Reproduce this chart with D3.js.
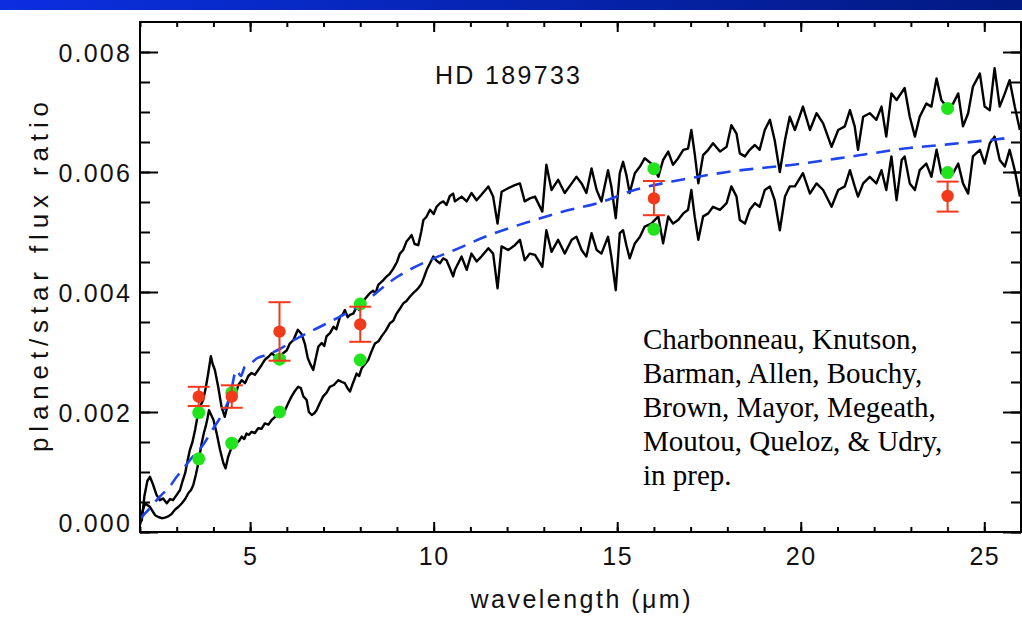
<!DOCTYPE html>
<html>
<head>
<meta charset="utf-8">
<script src="https://cdn.jsdelivr.net/npm/d3@7"></script>
<style>
  html, body { margin: 0; padding: 0; background: #fff; }
  svg { display: block; }
  .idl { font-family: "Liberation Sans", Helvetica, Arial, sans-serif; fill: #111; }
</style>
</head>
<body>
<script>
// ---------- DATA ----------
const xMajorTicks = [5, 10, 15, 20, 25];
const yMajorTicks = [0.000, 0.002, 0.004, 0.006, 0.008];
const yTickLabels = ["0.000", "0.002", "0.004", "0.006", "0.008"];

// hotter model spectrum (upper black curve): [wavelength, flux ratio]
const upperSpectrum = [
 [2.00,0.00015],[2.05,0.0002],[2.12,0.0006],[2.20,0.00085],[2.27,0.00092],[2.35,0.0008],[2.45,0.00062],
 [2.54,0.00053],[2.63,0.00056],[2.73,0.00048],[2.82,0.00055],[2.90,0.00053],[3.00,0.00062],[3.09,0.0007],
 [3.16,0.00085],[3.23,0.00098],[3.30,0.0012],[3.36,0.00137],[3.43,0.0015],[3.50,0.0017],[3.59,0.002],
 [3.66,0.00212],[3.72,0.0022],[3.79,0.0024],[3.86,0.00265],[3.93,0.00293],[3.98,0.0028],[4.04,0.0027],
 [4.13,0.00242],[4.22,0.00209],[4.31,0.00192],[4.40,0.00215],[4.50,0.00237],[4.59,0.00226],[4.68,0.00245],
 [4.77,0.00253],[4.86,0.00248],[4.95,0.0026],[5.04,0.00265],[5.13,0.00262],[5.22,0.0027],[5.31,0.00278],
 [5.40,0.00287],[5.50,0.00292],[5.59,0.00298],[5.70,0.00292],[5.81,0.0029],[5.90,0.00298],[6.00,0.00303],
 [6.08,0.00314],[6.18,0.0032],[6.30,0.00337],[6.40,0.0033],[6.49,0.00314],[6.57,0.0029],[6.63,0.00281],
 [6.72,0.0027],[6.79,0.0029],[6.86,0.00309],[6.95,0.00315],[7.02,0.0031],[7.08,0.00326],[7.18,0.00332],
 [7.27,0.00342],[7.35,0.00338],[7.45,0.00359],[7.52,0.00362],[7.58,0.0037],[7.66,0.00358],[7.72,0.00362],
 [7.81,0.00364],[7.90,0.00375],[7.97,0.0037],[8.04,0.00381],[8.15,0.0039],[8.26,0.00398],[8.35,0.00402],
 [8.42,0.00398],[8.49,0.00412],[8.60,0.00418],[8.72,0.00426],[8.80,0.0043],[8.90,0.00439],[9.00,0.0045],
 [9.08,0.00464],[9.17,0.0047],[9.26,0.00484],[9.34,0.0049],[9.40,0.00495],[9.48,0.0048],[9.58,0.00478],
 [9.66,0.005],[9.72,0.0052],[9.80,0.00525],[9.90,0.00537],[10.00,0.0053],[10.08,0.00542],[10.17,0.00548],
 [10.26,0.00551],[10.35,0.00545],[10.44,0.0056],[10.53,0.00564],[10.58,0.00551],[10.76,0.00559],
 [10.90,0.00551],[11.03,0.00565],[11.17,0.00553],[11.30,0.00562],[11.49,0.00576],[11.62,0.00559],
 [11.74,0.00514],[11.85,0.00567],[12.03,0.00573],[12.21,0.00578],[12.35,0.00581],[12.48,0.00551],
 [12.62,0.00556],[12.76,0.00559],[12.96,0.00534],[13.07,0.00612],[13.21,0.0057],[13.39,0.00587],
 [13.57,0.00565],[13.76,0.00581],[13.89,0.00592],[14.03,0.00581],[14.16,0.00565],[14.30,0.00606],
 [14.44,0.0057],[14.57,0.00551],[14.75,0.00603],[14.84,0.00576],[14.96,0.00523],[15.07,0.00598],
 [15.16,0.00617],[15.25,0.00595],[15.34,0.00565],[15.48,0.00598],[15.62,0.00609],[15.75,0.00623],
 [15.93,0.00614],[16.12,0.00592],[16.25,0.0062],[16.39,0.00634],[16.52,0.00612],[16.66,0.00623],
 [16.80,0.00637],[16.93,0.00639],[17.02,0.0067],[17.11,0.00631],[17.21,0.00581],[17.34,0.00628],
 [17.48,0.00637],[17.61,0.00648],[17.80,0.00634],[17.98,0.00642],[18.11,0.00678],[18.25,0.00664],
 [18.34,0.00631],[18.48,0.00626],[18.61,0.00637],[18.75,0.00645],[18.88,0.00637],[19.02,0.0067],
 [19.16,0.00687],[19.29,0.00653],[19.43,0.006],[19.57,0.00653],[19.70,0.00692],[19.84,0.0067],
 [20.06,0.00709],[20.25,0.0067],[20.43,0.00698],[20.61,0.00681],[20.84,0.00642],[21.02,0.0067],
 [21.20,0.00676],[21.34,0.00703],[21.47,0.00676],[21.56,0.00637],[21.70,0.00692],[21.88,0.00698],
 [22.06,0.00687],[22.20,0.00709],[22.33,0.00659],[22.47,0.00731],[22.61,0.0072],[22.83,0.0074],
 [22.97,0.00692],[23.11,0.00659],[23.24,0.00692],[23.42,0.00714],[23.56,0.00709],[23.70,0.00756],
 [23.83,0.0072],[24.01,0.00706],[24.15,0.00714],[24.29,0.00731],[24.42,0.00676],[24.56,0.00698],
 [24.69,0.00742],[24.88,0.00764],[25.01,0.00709],[25.15,0.00703],[25.28,0.00773],[25.42,0.00709],
 [25.56,0.00731],[25.69,0.00753],[25.83,0.00709],[25.97,0.0067]
];

// cooler model spectrum (lower black curve)
const lowerSpectrum = [
 [2.00,0.00012],[2.07,0.00035],[2.14,0.00048],[2.20,0.00045],[2.27,0.00042],[2.34,0.00035],[2.41,0.00028],
 [2.50,0.00025],[2.59,0.00023],[2.68,0.00024],[2.77,0.00026],[2.86,0.0003],[2.95,0.00037],[3.05,0.00042],
 [3.14,0.00048],[3.23,0.00055],[3.32,0.00065],[3.39,0.0007],[3.45,0.00078],[3.52,0.00095],[3.59,0.00115],
 [3.68,0.00148],[3.74,0.00165],[3.79,0.00176],[3.84,0.0019],[3.88,0.00203],[3.94,0.00195],[4.00,0.00187],
 [4.09,0.00164],[4.18,0.00137],[4.27,0.00115],[4.33,0.00106],[4.40,0.00125],[4.50,0.00142],[4.56,0.0014],
 [4.63,0.00148],[4.70,0.00152],[4.77,0.00159],[4.84,0.00155],[4.90,0.00164],[4.97,0.00162],[5.04,0.00167],
 [5.13,0.00165],[5.22,0.00173],[5.31,0.00172],[5.40,0.00181],[5.50,0.00179],[5.59,0.00187],[5.68,0.00192],
 [5.77,0.002],[5.86,0.00198],[5.95,0.00203],[6.04,0.00215],[6.13,0.00226],[6.22,0.00235],[6.31,0.00242],
 [6.38,0.0024],[6.45,0.00226],[6.54,0.0022],[6.60,0.002],[6.68,0.00195],[6.75,0.00198],[6.81,0.00203],
 [6.90,0.00215],[6.99,0.00226],[7.08,0.00232],[7.17,0.00242],[7.28,0.00245],[7.40,0.00253],[7.50,0.0025],
 [7.58,0.00248],[7.65,0.0024],[7.72,0.00234],[7.80,0.00248],[7.90,0.00264],[7.97,0.0026],[8.04,0.00273],
 [8.13,0.0028],[8.22,0.00287],[8.30,0.003],[8.40,0.00314],[8.50,0.00318],[8.58,0.00326],[8.70,0.00336],
 [8.81,0.00348],[8.90,0.00352],[8.99,0.00364],[9.08,0.00372],[9.17,0.00381],[9.26,0.00385],[9.35,0.00392],
 [9.44,0.00398],[9.53,0.00403],[9.60,0.00408],[9.67,0.00414],[9.74,0.00425],[9.81,0.00437],[9.90,0.00448],
 [9.99,0.00459],[10.08,0.00452],[10.17,0.00448],[10.26,0.00456],[10.35,0.00453],[10.44,0.0044],
 [10.53,0.00426],[10.58,0.00437],[10.76,0.00459],[10.90,0.00437],[11.03,0.00464],[11.17,0.00451],
 [11.30,0.00459],[11.49,0.00473],[11.62,0.00464],[11.74,0.00406],[11.85,0.00476],[12.03,0.0047],
 [12.21,0.00478],[12.35,0.00487],[12.48,0.00453],[12.62,0.00464],[12.76,0.00462],[12.96,0.00442],
 [13.07,0.00503],[13.21,0.00467],[13.39,0.00487],[13.57,0.00464],[13.76,0.00487],[13.89,0.00492],
 [14.03,0.0047],[14.16,0.00459],[14.30,0.00498],[14.44,0.0047],[14.57,0.00464],[14.75,0.00492],
 [14.84,0.00459],[14.96,0.00403],[15.07,0.00498],[15.16,0.00503],[15.25,0.00478],[15.34,0.00456],
 [15.48,0.00481],[15.62,0.00492],[15.75,0.00509],[15.93,0.00514],[16.12,0.00526],[16.25,0.00481],
 [16.39,0.00526],[16.52,0.00514],[16.66,0.0052],[16.80,0.00531],[16.93,0.00537],[17.02,0.0057],
 [17.11,0.00526],[17.21,0.00487],[17.34,0.00526],[17.48,0.00531],[17.61,0.00542],[17.80,0.00537],
 [17.98,0.00548],[18.11,0.00576],[18.25,0.00559],[18.34,0.0052],[18.48,0.00514],[18.61,0.00537],
 [18.75,0.00548],[18.88,0.00542],[19.02,0.0057],[19.16,0.00576],[19.29,0.00553],[19.43,0.00503],
 [19.57,0.00559],[19.70,0.00576],[19.84,0.00576],[20.06,0.00598],[20.25,0.00564],[20.43,0.00581],
 [20.61,0.0057],[20.84,0.00542],[21.02,0.0057],[21.20,0.00576],[21.34,0.00603],[21.47,0.00576],
 [21.56,0.00559],[21.70,0.00581],[21.88,0.00592],[22.06,0.00581],[22.20,0.00603],[22.33,0.0057],
 [22.47,0.00626],[22.61,0.00553],[22.75,0.0062],[22.83,0.00626],[22.97,0.00581],[23.11,0.0057],
 [23.24,0.00603],[23.42,0.00614],[23.56,0.00592],[23.70,0.00637],[23.83,0.00598],[24.01,0.00598],
 [24.15,0.00598],[24.29,0.00614],[24.42,0.00581],[24.56,0.00564],[24.69,0.00626],[24.88,0.00637],
 [25.01,0.00614],[25.15,0.00648],[25.28,0.00659],[25.42,0.0062],[25.56,0.00609],[25.69,0.00637],
 [25.83,0.00603],[25.97,0.00559]
];

// blackbody-like comparison model (blue dashed)
const blueModel = [
 [2.0,0.00022],[2.3,0.00042],[2.54,0.00059],[2.8,0.00075],[3.0,0.00092],[3.2,0.00107],[3.4,0.00123],
 [3.68,0.00142],[4.0,0.00173],[4.27,0.002],[4.45,0.00226],[4.63,0.0027],[4.75,0.0026],[4.85,0.00275],
 [5.0,0.0028],[5.2,0.0029],[5.45,0.00295],[5.81,0.00305],[6.2,0.0032],[7.0,0.00345],[8.0,0.00378],
 [9.0,0.00425],[10.0,0.00456],[10.57,0.0047],[11.4,0.00492],[12.03,0.00506],[12.76,0.0052],[13.4,0.00532],
 [14.57,0.0055],[15.47,0.0057],[16.75,0.00587],[18.0,0.006],[19.9,0.00613],[21.5,0.00627],[22.96,0.0064],
 [24.0,0.00646],[25.7,0.00657]
];

// band-integrated model points (green)
const greenUpper = [[3.6,0.00199],[4.5,0.00232],[5.8,0.00288],[8.0,0.0038],[16,0.006055],[24,0.00706]];
const greenLower = [[3.6,0.00122],[4.5,0.00148],[5.8,0.0020],[8.0,0.002867],[16,0.005045],[24,0.00599]];

// measurements (red): wavelength, value, lower bound, upper bound
const obsWave  = [3.6, 4.5, 5.8, 8.0, 16, 24];
const obsValue = [0.002255, 0.002255, 0.00334, 0.00346, 0.00556, 0.0056];
const obsLow   = [0.0021, 0.00207, 0.002855, 0.00317, 0.00528, 0.00534];
const obsHigh  = [0.00242, 0.002445, 0.00383, 0.003755, 0.00585, 0.00584];

const authorLines = ["Charbonneau, Knutson,", "Barman, Allen, Bouchy,", "Brown, Mayor, Megeath,",
                     "Moutou, Queloz, & Udry,", "in prep."];

// ---------- LAYOUT ----------
const W = 1022, H = 628;
const L = 140, R = 1021, T = 22, B = 532;

const svg = d3.select("body").append("svg").attr("width", W).attr("height", H);

const defs = svg.append("defs");
const grad = defs.append("linearGradient").attr("id", "bar").attr("x1", 0).attr("x2", 1).attr("y1", 0).attr("y2", 0);
grad.append("stop").attr("offset", "0%").attr("stop-color", "#0a2fe0");
grad.append("stop").attr("offset", "100%").attr("stop-color", "#021a82");
defs.append("clipPath").attr("id", "plot").append("rect").attr("x", L).attr("y", T).attr("width", R - L).attr("height", B - T);

svg.append("rect").attr("width", W).attr("height", H).attr("fill", "#fff");
svg.append("rect").attr("x", 0).attr("y", 0).attr("width", W).attr("height", 10).attr("fill", "url(#bar)");

const x = d3.scaleLinear().domain([2, 26]).range([L, R]);
const y = d3.scaleLinear().domain([0, 0.0085]).range([B, T]);

// ---------- MARKS ----------
const plot = svg.append("g").attr("clip-path", "url(#plot)");
const line = d3.line().x(d => x(d[0])).y(d => y(d[1]));

[upperSpectrum, lowerSpectrum].forEach(s => {
  plot.append("path").datum(s).attr("d", line)
    .attr("fill", "none").attr("stroke", "#000").attr("stroke-width", 2.4).attr("stroke-linejoin", "round");
});

plot.append("path").datum(blueModel)
  .attr("d", d3.line().x(d => x(d[0])).y(d => y(d[1])).curve(d3.curveMonotoneX))
  .attr("fill", "none").attr("stroke", "#1f44ee").attr("stroke-width", 2.6)
  .attr("stroke-dasharray", "14,9");

plot.selectAll("circle.g").data(greenUpper.concat(greenLower)).join("circle")
  .attr("class", "g").attr("cx", d => x(d[0])).attr("cy", d => y(d[1])).attr("r", 6.5)
  .attr("fill", "#22e41c");

const obs = obsWave.map((w, i) => ({ w, v: obsValue[i], lo: obsLow[i], hi: obsHigh[i] }));
const eb = plot.append("g").attr("stroke", "#f2391c").attr("stroke-width", 2);
eb.selectAll("line.v").data(obs).join("line").attr("class", "v")
  .attr("x1", d => x(d.w)).attr("x2", d => x(d.w)).attr("y1", d => y(d.lo)).attr("y2", d => y(d.hi));
eb.selectAll("line.lo").data(obs).join("line").attr("class", "lo")
  .attr("x1", d => x(d.w) - 11).attr("x2", d => x(d.w) + 11).attr("y1", d => y(d.lo)).attr("y2", d => y(d.lo));
eb.selectAll("line.hi").data(obs).join("line").attr("class", "hi")
  .attr("x1", d => x(d.w) - 11).attr("x2", d => x(d.w) + 11).attr("y1", d => y(d.hi)).attr("y2", d => y(d.hi));
plot.selectAll("circle.r").data(obs).join("circle").attr("class", "r")
  .attr("cx", d => x(d.w)).attr("cy", d => y(d.v)).attr("r", 6.2).attr("fill", "#f2391c");

// ---------- AXES ----------
const minorX = d3.range(2, 27);
const minorY = d3.range(0, 0.0085, 0.0005);

function styleAxis(g) {
  g.select(".domain").remove();
  g.selectAll(".tick line").attr("stroke", "#000").attr("stroke-width", 2);
}

// bottom
svg.append("g").attr("transform", `translate(0,${B})`)
  .call(d3.axisBottom(x).tickValues(minorX).tickSize(-5).tickFormat(""))
  .call(styleAxis);
const xb = svg.append("g").attr("transform", `translate(0,${B})`)
  .call(d3.axisBottom(x).tickValues(xMajorTicks).tickSize(-10).tickPadding(15).tickFormat(d3.format("d")))
  .call(styleAxis);
xb.selectAll("text").attr("class", "idl").attr("font-size", 25).attr("letter-spacing", 1.5).attr("dy", "0.71em");

// top
svg.append("g").attr("transform", `translate(0,${T})`)
  .call(d3.axisTop(x).tickValues(minorX).tickSize(-5).tickFormat("")).call(styleAxis);
svg.append("g").attr("transform", `translate(0,${T})`)
  .call(d3.axisTop(x).tickValues(xMajorTicks).tickSize(-10).tickFormat("")).call(styleAxis);

// left
svg.append("g").attr("transform", `translate(${L},0)`)
  .call(d3.axisLeft(y).tickValues(minorY).tickSize(-10).tickFormat("")).call(styleAxis);
const yl = svg.append("g").attr("transform", `translate(${L},0)`)
  .call(d3.axisLeft(y).tickValues(yMajorTicks).tickSize(-18).tickPadding(8)
    .tickFormat((d, i) => yTickLabels[i]))
  .call(styleAxis);
yl.selectAll("text").attr("class", "idl").attr("font-size", 25).attr("letter-spacing", 2.2)
  .attr("dy", (d, i) => i === 0 ? "-0.02em" : "0.36em");

// right
svg.append("g").attr("transform", `translate(${R},0)`)
  .call(d3.axisRight(y).tickValues(minorY).tickSize(-10).tickFormat("")).call(styleAxis);
svg.append("g").attr("transform", `translate(${R},0)`)
  .call(d3.axisRight(y).tickValues(yMajorTicks).tickSize(-18).tickFormat("")).call(styleAxis);

// frame
svg.append("rect").attr("x", L).attr("y", T).attr("width", R - L).attr("height", B - T)
  .attr("fill", "none").attr("stroke", "#000").attr("stroke-width", 2);

// ---------- TEXT ----------
svg.append("text").attr("class", "idl").attr("x", (L + R) / 2).attr("y", 608)
  .attr("text-anchor", "middle").attr("font-size", 25).attr("textLength", 220).attr("lengthAdjust", "spacing")
  .text("wavelength (\u03BCm)");

svg.append("text").attr("class", "idl")
  .attr("transform", `translate(48,${(T + B) / 2}) rotate(-90)`)
  .attr("text-anchor", "middle").attr("font-size", 26).attr("textLength", 350).attr("lengthAdjust", "spacing")
  .text("planet/star flux ratio");

svg.append("text").attr("class", "idl").attr("x", 435).attr("y", 84)
  .attr("font-size", 25).attr("textLength", 145).attr("lengthAdjust", "spacing")
  .text("HD 189733");

svg.append("g").selectAll("text").data(authorLines).join("text")
  .attr("x", 643).attr("y", (d, i) => 349 + i * 34)
  .attr("font-family", "'Liberation Serif', 'Times New Roman', serif").attr("font-size", 29).attr("fill", "#000")
  .text(d => d);
</script>
</body>
</html>
